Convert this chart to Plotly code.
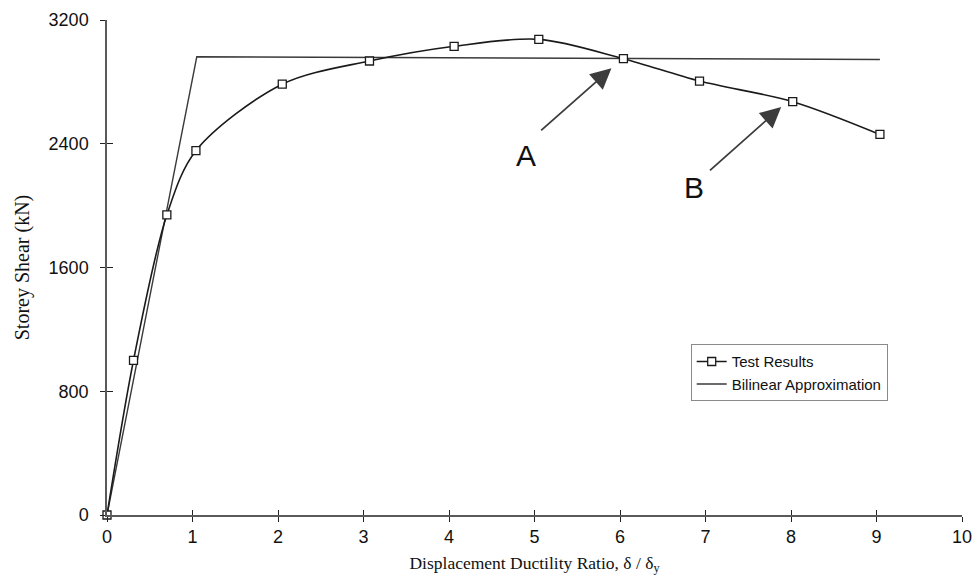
import plotly.graph_objects as go

# Test results: storey shear vs displacement ductility ratio
ductility = [0.0, 0.31, 0.70, 1.04, 2.05, 3.07, 4.06, 5.05, 6.04, 6.93, 8.02, 9.04]
shear_kn = [0, 1000, 1940, 2355, 2785, 2935, 3030, 3075, 2950, 2805, 2672, 2460]

# Bilinear approximation of the envelope
bilin_x = [0.0, 1.05, 9.04]
bilin_y = [0, 2962, 2945]

x_ticks = list(range(0, 11))
y_ticks = [0, 800, 1600, 2400, 3200]

AXIS_GREY = "#5a5a5a"
SANS = "Liberation Sans, Arial, sans-serif"
SERIF = "Liberation Serif, Times New Roman, serif"

fig = go.Figure()

fig.add_trace(go.Scatter(
    x=bilin_x, y=bilin_y, mode="lines", name="Bilinear Approximation",
    line=dict(color="#3a3a3a", width=1.4), cliponaxis=False,
))
fig.add_trace(go.Scatter(
    x=ductility, y=shear_kn, mode="lines+markers", name="Test Results",
    line=dict(color="#1a1a1a", width=1.6, shape="spline", smoothing=0.9),
    marker=dict(symbol="square", size=8, color="white",
                line=dict(color="#1a1a1a", width=1.3)),
    cliponaxis=False,
))

axis_common = dict(showgrid=False, zeroline=False, showline=True,
                   linecolor=AXIS_GREY, linewidth=1.5, automargin=False,
                   ticks="outside", ticklen=5, tickwidth=1.3, tickcolor="#222",
                   tickfont=dict(family=SANS, size=18, color="#111"))

fig.update_layout(
    width=979, height=586,
    margin=dict(l=107, r=17, t=20, b=71),
    paper_bgcolor="white", plot_bgcolor="white",
    showlegend=True,
    legend=dict(
        x=0.6827, y=0.345, xanchor="left", yanchor="top",
        bordercolor="#8a8a8a", borderwidth=1, bgcolor="white",
        font=dict(family=SANS, size=15, color="#111"),
        traceorder="reversed", itemwidth=30,
    ),
    xaxis=dict(range=[0, 10], tickvals=x_ticks, **axis_common,
               title=dict(text="Displacement Ductility Ratio, δ / δ<sub>y</sub>",
                          font=dict(family=SERIF, size=17.5, color="#111"),
                          standoff=10)),
    yaxis=dict(range=[0, 3200], tickvals=y_ticks, **axis_common,
               ticklabelstandoff=8,
               title=dict(text="Storey Shear (kN)",
                          font=dict(family=SERIF, size=20, color="#111"),
                          standoff=14)),
    # inner halves of the crossing tick marks
    xaxis2=dict(overlaying="x", range=[0, 10], tickvals=x_ticks, ticks="inside",
                ticklen=5, tickwidth=1.3, tickcolor="#222", showticklabels=False,
                showgrid=False, zeroline=False, showline=False, side="bottom",
                automargin=False),
    yaxis2=dict(overlaying="y", range=[0, 3200], tickvals=y_ticks, ticks="inside",
                ticklen=6, tickwidth=1.3, tickcolor="#222", showticklabels=False,
                showgrid=False, zeroline=False, showline=False, side="left",
                automargin=False),
)

# invisible trace so the overlay axes are drawn
fig.add_trace(go.Scatter(x=[None], y=[None], xaxis="x2", yaxis="y2",
                         showlegend=False, hoverinfo="skip"))

ARROW = "#3c3c3c"
for tip, tail, label, pos in [
    ((5.90, 2888), (5.06, 2478), "A", (4.895, 2327)),
    ((7.885, 2637), (7.035, 2219), "B", (6.87, 2114)),
]:
    fig.add_annotation(x=tip[0], y=tip[1], ax=tail[0], ay=tail[1],
                       xref="x", yref="y", axref="x", ayref="y",
                       showarrow=True, arrowhead=2, arrowsize=2.3,
                       arrowwidth=1.8, arrowcolor=ARROW, text="")
    fig.add_annotation(x=pos[0], y=pos[1], xref="x", yref="y", text=label,
                       showarrow=False,
                       font=dict(family=SANS, size=30, color="#111"))

fig.write_html("out.html")
